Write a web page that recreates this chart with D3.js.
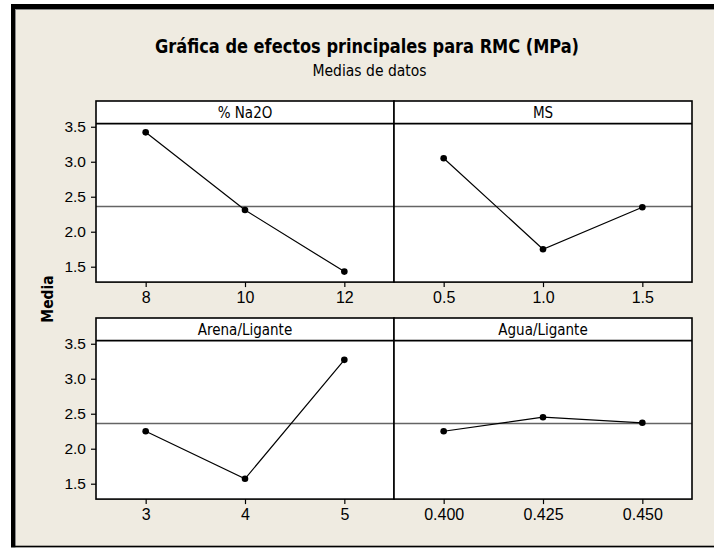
<!DOCTYPE html>
<html>
<head>
<meta charset="utf-8">
<script src="https://cdn.jsdelivr.net/npm/d3@7"></script>
<style>
  html, body { margin: 0; padding: 0; background: #fff; }
  svg { display: block; font-family: "DejaVu Sans Condensed", "DejaVu Sans", sans-serif; }
</style>
</head>
<body>
<div id="chart"></div>
<script>
// Main effects plot for RMC (MPa), 2x2 panels, data means

const factors = ["% Na2O", "MS", "Arena/Ligante", "Agua/Ligante"];
const levels = [
  [8, 10, 12],
  [0.5, 1.0, 1.5],
  [3, 4, 5],
  [0.400, 0.425, 0.450]
];
const levelLabels = [
  ["8", "10", "12"],
  ["0.5", "1.0", "1.5"],
  ["3", "4", "5"],
  ["0.400", "0.425", "0.450"]
];
const means = [
  [3.42, 2.31, 1.43],
  [3.05, 1.75, 2.35],
  [2.25, 1.57, 3.27],
  [2.25, 2.45, 2.37]
];
const grandMean = 2.36;
const yTicks = [1.5, 2.0, 2.5, 3.0, 3.5];

const W = 714, H = 548;

// panel layout
const colX = [96, 394];
const rowY = [101, 318];
const panelW = 298;
const stripH = 22.6;
const plotH = 158.5;

const svg = d3.select("#chart").append("svg")
  .attr("width", W)
  .attr("height", H);

// ---- frame / background ----
svg.append("rect").attr("width", W).attr("height", H).attr("fill", "#ffffff");
svg.append("rect").attr("x", 11).attr("y", 4).attr("width", W - 11).attr("height", H - 4)
  .attr("fill", "#efebe1");
svg.append("rect").attr("x", 11).attr("y", 4).attr("width", W - 11).attr("height", 5).attr("fill", "#000");
svg.append("rect").attr("x", 11).attr("y", 4).attr("width", 4).attr("height", H - 4).attr("fill", "#000");
svg.append("rect").attr("x", 15).attr("y", 9).attr("width", W - 15).attr("height", 1).attr("fill", "#8a8a8a");
svg.append("rect").attr("x", 15).attr("y", 9).attr("width", 1).attr("height", H - 9).attr("fill", "#8a8a8a");
svg.append("rect").attr("x", 11).attr("y", 545.7).attr("width", W - 11).attr("height", 1.5).attr("fill", "#000");
svg.append("rect").attr("x", 11).attr("y", 547.2).attr("width", W - 11).attr("height", 0.8).attr("fill", "#9a9a9a");

// ---- titles ----
svg.append("text")
  .attr("x", 367).attr("y", 53.3)
  .attr("text-anchor", "middle")
  .attr("font-size", 20).attr("font-weight", "bold")
  .attr("textLength", 424).attr("lengthAdjust", "spacingAndGlyphs")
  .text("Gráfica de efectos principales para RMC (MPa)");

svg.append("text")
  .attr("x", 369.5).attr("y", 75.5)
  .attr("text-anchor", "middle")
  .attr("font-size", 15.5)
  .attr("textLength", 114).attr("lengthAdjust", "spacingAndGlyphs")
  .text("Medias de datos");

svg.append("text")
  .attr("transform", "translate(53,299) rotate(-90)")
  .attr("text-anchor", "middle")
  .attr("font-size", 15.5).attr("font-weight", "bold")
  .text("Media");

// ---- panels ----
const y = d3.scaleLinear().domain([1.28, 3.545]).range([plotH, 0]);

factors.forEach((name, i) => {
  const col = i % 2, row = Math.floor(i / 2);
  const lv = levels[i];
  const step = lv[1] - lv[0];
  const x = d3.scaleLinear()
    .domain([lv[0] - step / 2, lv[lv.length - 1] + step / 2])
    .range([0, panelW]);

  const g = svg.append("g")
    .attr("transform", `translate(${colX[col]},${rowY[row]})`);

  // strip
  g.append("rect").attr("width", panelW).attr("height", stripH).attr("fill", "#fff");
  g.append("text")
    .attr("x", panelW / 2).attr("y", 17.3)
    .attr("text-anchor", "middle")
    .attr("font-size", 15)
    .text(name);

  const p = g.append("g").attr("transform", `translate(0,${stripH})`);
  p.append("rect").attr("width", panelW).attr("height", plotH).attr("fill", "#fff");

  // reference line at overall mean
  p.append("line")
    .attr("x1", 0).attr("x2", panelW)
    .attr("y1", y(grandMean)).attr("y2", y(grandMean))
    .attr("stroke", "#646464").attr("stroke-width", 1.6);

  const pts = lv.map((v, k) => [v, means[i][k]]);
  p.append("path")
    .datum(pts)
    .attr("fill", "none")
    .attr("stroke", "#000")
    .attr("stroke-width", 1.2)
    .attr("d", d3.line().x(d => x(d[0])).y(d => y(d[1])));

  p.selectAll("circle").data(pts).join("circle")
    .attr("cx", d => x(d[0])).attr("cy", d => y(d[1]))
    .attr("r", 3.3).attr("fill", "#000");

  // x axis
  const xAxis = d3.axisBottom(x)
    .tickValues(lv)
    .tickFormat((d, k) => levelLabels[i][k])
    .tickSize(5).tickSizeOuter(0).tickPadding(5);
  const xa = p.append("g").attr("transform", `translate(0,${plotH})`).call(xAxis);
  xa.select(".domain").remove();
  xa.selectAll("text").attr("font-size", 16).attr("font-family", null).attr("fill", "#000");
  xa.selectAll("line").attr("stroke", "#000").attr("stroke-width", 1.2);

  // y axis (left column only)
  if (col === 0) {
    const yAxis = d3.axisLeft(y)
      .tickValues(yTicks)
      .tickFormat(d3.format(".1f"))
      .tickSize(5).tickSizeOuter(0).tickPadding(5);
    const ya = p.append("g").call(yAxis);
    ya.select(".domain").remove();
    ya.selectAll("text").attr("font-size", 15.5).attr("font-family", null).attr("fill", "#000");
    ya.selectAll("line").attr("stroke", "#000").attr("stroke-width", 1.2);
  }

  // borders
  g.append("line")
    .attr("x1", 0).attr("x2", panelW)
    .attr("y1", stripH).attr("y2", stripH)
    .attr("stroke", "#000").attr("stroke-width", 1.6);
  g.append("rect")
    .attr("width", panelW).attr("height", stripH + plotH)
    .attr("fill", "none")
    .attr("stroke", "#000").attr("stroke-width", 1.6);
});
</script>
</body>
</html>
